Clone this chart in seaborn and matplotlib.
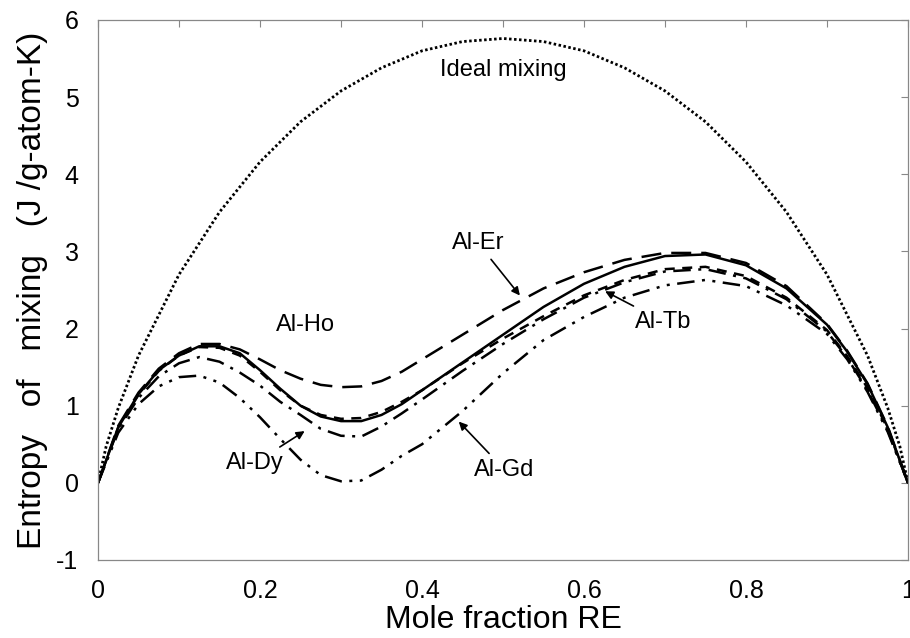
import numpy as np
import pandas as pd
import matplotlib
matplotlib.use("Agg")
import matplotlib.pyplot as plt
import seaborn as sns

# mole fraction grid and curves
x_ideal = [0, 0.01, 0.025, 0.05, 0.1, 0.15, 0.2, 0.25, 0.3, 0.35, 0.4, 0.45, 0.5,
           0.55, 0.6, 0.65, 0.7, 0.75, 0.8, 0.85, 0.9, 0.95, 0.975, 0.99, 1.0]
s_ideal = [0, 0.47, 0.97, 1.65, 2.70, 3.51, 4.16, 4.68, 5.08, 5.38, 5.60, 5.72, 5.76,
           5.72, 5.60, 5.38, 5.08, 4.68, 4.16, 3.51, 2.70, 1.65, 0.97, 0.47, 0]

x_re = [0, 0.025, 0.05, 0.075, 0.1, 0.125, 0.15, 0.175, 0.2, 0.225, 0.25, 0.275,
        0.3, 0.325, 0.35, 0.375, 0.4, 0.45, 0.5, 0.55, 0.6, 0.65, 0.7, 0.75, 0.8,
        0.85, 0.9, 0.925, 0.95, 0.975, 1.0]
s_er = [0, 0.74, 1.17, 1.48, 1.68, 1.80, 1.80, 1.73, 1.60, 1.46, 1.35, 1.27,
        1.24, 1.25, 1.32, 1.44, 1.60, 1.92, 2.24, 2.52, 2.73, 2.89, 2.98, 2.98, 2.85,
        2.55, 2.06, 1.71, 1.29, 0.73, 0]
s_ho = [0, 0.72, 1.15, 1.46, 1.65, 1.77, 1.77, 1.68, 1.46, 1.22, 1.00, 0.86,
        0.80, 0.80, 0.88, 1.02, 1.20, 1.56, 1.92, 2.28, 2.58, 2.80, 2.94, 2.96, 2.82,
        2.52, 2.05, 1.70, 1.28, 0.72, 0]
s_tb = [0, 0.72, 1.14, 1.45, 1.65, 1.76, 1.75, 1.65, 1.44, 1.20, 1.00, 0.88,
        0.83, 0.84, 0.92, 1.05, 1.20, 1.55, 1.87, 2.16, 2.43, 2.63, 2.77, 2.80, 2.68,
        2.40, 1.98, 1.64, 1.23, 0.70, 0]
s_dy = [0, 0.70, 1.10, 1.38, 1.55, 1.63, 1.57, 1.43, 1.26, 1.05, 0.88, 0.70,
        0.61, 0.60, 0.73, 0.90, 1.08, 1.45, 1.80, 2.12, 2.40, 2.60, 2.74, 2.77, 2.65,
        2.38, 1.96, 1.62, 1.20, 0.68, 0]
s_gd = [0, 0.65, 1.02, 1.25, 1.37, 1.39, 1.30, 1.10, 0.85, 0.57, 0.30, 0.10,
        0.02, 0.03, 0.17, 0.35, 0.50, 0.93, 1.42, 1.85, 2.15, 2.40, 2.56, 2.63, 2.55,
        2.30, 1.93, 1.60, 1.18, 0.66, 0]

sns.set_style("white")
plt.rcParams['font.family'] = ['Liberation Sans', 'DejaVu Sans']
plt.rcParams['text.color'] = 'black'
plt.rcParams['axes.labelcolor'] = 'black'
plt.rcParams['axes.unicode_minus'] = False

fig = plt.figure(figsize=(9.1, 6.38), dpi=100)
ax = fig.add_axes([0.1077, 0.1223, 0.8901, 0.8464])

sns.lineplot(x=x_ideal, y=s_ideal, ax=ax, color='black', lw=2.0,
             linestyle=(0, (0.9, 0.9)))
sns.lineplot(x=x_re, y=s_er, ax=ax, color='black', lw=1.8, linestyle=(0, (8, 4)))
sns.lineplot(x=x_re, y=s_ho, ax=ax, color='black', lw=1.8, linestyle='-')
sns.lineplot(x=x_re, y=s_tb, ax=ax, color='black', lw=1.8, linestyle=(0, (4, 3)))
sns.lineplot(x=x_re, y=s_dy, ax=ax, color='black', lw=1.8,
             linestyle=(0, (7, 3, 1.2, 3)))
sns.lineplot(x=x_re, y=s_gd, ax=ax, color='black', lw=1.8,
             linestyle=(0, (7, 3, 1.2, 3, 1.2, 3)))

ax.set_xlim(0, 1)
ax.set_ylim(-1, 6)
ax.set_xticks([0, 0.2, 0.4, 0.6, 0.8, 1])
ax.set_xticklabels(['0', '0.2', '0.4', '0.6', '0.8', '1'])
ax.set_xticks(np.arange(0.1, 1.0, 0.2), minor=True)
ax.set_yticks(range(-1, 7))
ax.tick_params(which='both', direction='in', length=5, width=0.8, color='#888888',
               labelcolor='black', top=True, right=True, labelsize=18, pad=14)
for sp in ax.spines.values():
    sp.set_color('#888888')
    sp.set_linewidth(0.9)

ax.set_xlabel('Mole fraction RE', fontsize=23, labelpad=1)
ax.set_ylabel('Entropy   of   mixing   (J /g-atom-K)', fontsize=24, labelpad=6)

ax.text(0.5, 5.35, 'Ideal mixing', fontsize=17, ha='center', va='center')
ax.text(0.256, 2.05, 'Al-Ho', fontsize=17, ha='center', va='center')

arrow = dict(arrowstyle='-|>', color='black', lw=1.2, mutation_scale=12)
ax.annotate('Al-Er', xy=(0.523, 2.40), xytext=(0.469, 3.11), fontsize=17,
            ha='center', va='center', arrowprops=arrow)
ax.annotate('Al-Tb', xy=(0.623, 2.50), xytext=(0.698, 2.09), fontsize=17,
            ha='center', va='center', arrowprops=arrow)
ax.annotate('Al-Gd', xy=(0.443, 0.82), xytext=(0.502, 0.17), fontsize=17,
            ha='center', va='center', arrowprops=arrow)
ax.annotate('Al-Dy', xy=(0.258, 0.69), xytext=(0.194, 0.26), fontsize=17,
            ha='center', va='center', arrowprops=arrow)

fig.savefig('out.png', dpi=100)
